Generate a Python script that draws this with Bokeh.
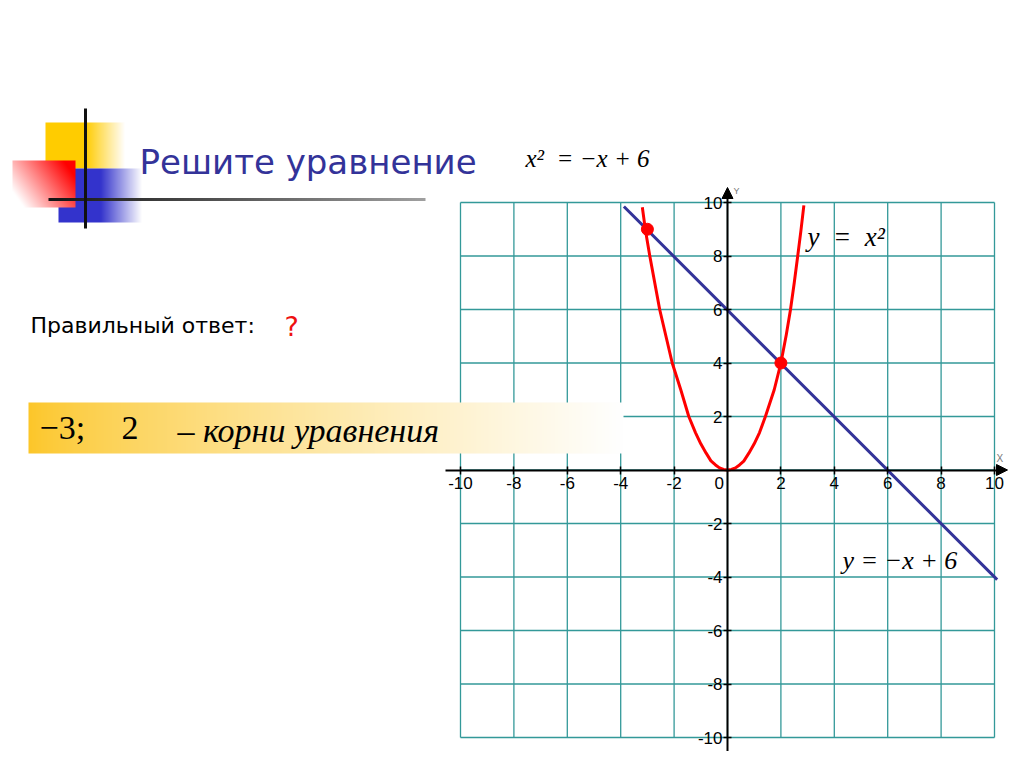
import numpy as np
from bokeh.plotting import figure
from bokeh.models import Label, LinearAxis, FixedTicker, Arrow, NormalHead, Range1d
from bokeh.embed import file_html
from bokeh.resources import INLINE

# ---------------- data ----------------
x_ticks = [-10, -8, -6, -4, -2, 2, 4, 6, 8, 10]
y_ticks = [-10, -8, -6, -4, -2, 2, 4, 6, 8, 10]
tick_labels = {-10: "-10", -8: "-8", -6: "-6", -4: "-4", -2: "-2",
               2: "2", 4: "4", 6: "6", 8: "8", 10: "10"}
grid_vals = [-10, -8, -6, -4, -2, 0, 2, 4, 6, 8, 10]

# y = x^2 curve
parab_x = [-3.19, -3.07, -2.91, -2.54, -2.07, -1.75, -1.45, -1.2, -1.0, -0.8, -0.62, -0.45,
           -0.3, -0.15, 0.0, 0.15, 0.3, 0.45, 0.61, 0.8, 1.0, 1.2, 1.42, 1.75, 2.0, 2.2,
           2.36, 2.5, 2.63, 2.75, 2.86]
parab_y = [9.82, 8.94, 8.0, 6.0, 4.0, 3.0, 2.0, 1.4, 0.98, 0.63, 0.34, 0.19,
           0.08, 0.02, 0.0, 0.02, 0.08, 0.19, 0.33, 0.63, 0.98, 1.4, 2.0, 3.0, 4.0, 5.05,
           6.0, 7.0, 8.0, 8.95, 9.89]
# y = -x + 6
line_x = [-3.88, 10.1]
line_y = [9.85, -4.1]
# intersection points (roots)
roots_x = [-3, 2]
roots_y = [9, 4]

# ---------------- geometry ----------------
W, H = 1008, 751
X0, Y0, SX, SY = 727.0, 469.5, 26.7, 26.75


def dx(px):
    return (px - X0) / SX


def dy(py):
    return (Y0 - py) / SY


p = figure(width=W, height=H, x_range=Range1d(dx(0), dx(W)), y_range=Range1d(dy(H), dy(0)),
           output_backend="svg", toolbar_location=None, min_border=0,
           x_axis_type=None, y_axis_type=None, outline_line_color=None)
p.background_fill_color = "white"
p.border_fill_color = "white"


def rgba_img(w, h, fn):
    """fn(u, v) -> (r, g, b, a); u left->right 0..1, v top->bottom 0..1"""
    u = np.linspace(0, 1, w)[None, :].repeat(h, 0)
    v = np.linspace(0, 1, h)[:, None].repeat(w, 1)
    r, g, b, a = fn(u, v)
    img = np.empty((h, w), dtype=np.uint32)
    view = img.view(dtype=np.uint8).reshape((h, w, 4))
    view[:, :, 0] = np.clip(r, 0, 255)
    view[:, :, 1] = np.clip(g, 0, 255)
    view[:, :, 2] = np.clip(b, 0, 255)
    view[:, :, 3] = np.clip(a, 0, 255)
    return img[::-1]


def place_img(img, px0, py0, px1, py1):
    p.image_rgba(image=[img], x=dx(px0), y=dy(py1), dw=dx(px1) - dx(px0), dh=dy(py0) - dy(py1))


def fade_h(col, solid_frac):
    def fn(u, v):
        t = np.clip((u - solid_frac) / (1 - solid_frac), 0, 1)
        r = col[0] + (255 - col[0]) * t
        g = col[1] + (255 - col[1]) * t
        b = col[2] + (255 - col[2]) * t
        return r, g, b, np.full_like(u, 255)
    return fn


# ---------------- title decoration ----------------
place_img(rgba_img(80, 46, fade_h((255, 204, 0), 0.5)), 45, 122, 125, 168)
place_img(rgba_img(84, 54, fade_h((51, 51, 204), 0.5)), 58, 168, 142, 222)


def red_fn(u, v):
    s = np.clip(0.3 + 0.85 * u - 0.45 * v, 0, 1)
    r = np.full_like(u, 255)
    g = 255 * (1 - s)
    b = 255 * (1 - s)
    return r, g, b, np.full_like(u, 255)


place_img(rgba_img(63, 47, red_fn), 12, 160, 75, 207)


def hline_fn(u, v):
    c = 20 + 140 * u
    return c, c, c, np.full_like(u, 255)


place_img(rgba_img(377, 3, hline_fn), 48, 197.5, 425, 200.5)
p.segment(x0=[dx(85)], y0=[dy(108)], x1=[dx(85)], y1=[dy(228)], line_color="#111111", line_width=3)

p.add_layout(Label(x=dx(139), y=dy(161), text="Решите уравнение", text_font="DejaVu Sans",
                   text_font_size="34px", text_color="#333399", text_baseline="middle"))
p.add_layout(Label(x=dx(525), y=dy(158), text="x²\u2002= −x + 6", text_font="Liberation Serif",
                   text_font_style="italic", text_font_size="25px", text_color="black",
                   text_baseline="middle"))

p.add_layout(Label(x=dx(30), y=dy(325), text="Правильный ответ:", text_font="DejaVu Sans",
                   text_font_size="22px", text_color="black", text_baseline="middle"))
p.add_layout(Label(x=dx(284), y=dy(326), text="?", text_font="DejaVu Sans",
                   text_font_size="27px", text_color="#EE1111", text_baseline="middle"))

# ---------------- grid ----------------
p.segment(x0=grid_vals, y0=[-10] * len(grid_vals), x1=grid_vals, y1=[10] * len(grid_vals),
          line_color="#339999", line_width=1.3)
p.segment(x0=[-10] * len(grid_vals), y0=grid_vals, x1=[10] * len(grid_vals), y1=grid_vals,
          line_color="#339999", line_width=1.3)


# ---------------- answer box ----------------
def gold_fn(u, v):
    t = np.clip(u, 0, 1) ** 0.75
    r = 252 + 3 * t
    g = 198 + 57 * t
    b = 40 + 215 * t
    return r, g, b, np.full_like(u, 255)


place_img(rgba_img(595, 51, gold_fn), 28, 402, 623, 453)
p.add_layout(Label(x=dx(39), y=dy(427), text="−3;", text_font="Liberation Serif",
                   text_font_size="34px", text_color="black", text_baseline="middle"))
p.add_layout(Label(x=dx(121), y=dy(427), text="2", text_font="Liberation Serif",
                   text_font_size="34px", text_color="black", text_baseline="middle"))
p.add_layout(Label(x=dx(177), y=dy(430), text="– корни уравнения", text_font="Liberation Serif",
                   text_font_style="italic", text_font_size="34px", text_color="black",
                   text_baseline="middle"))

# ---------------- axes ----------------
axis_kw = dict(axis_line_color="black", axis_line_width=2, major_tick_line_color="black",
               major_tick_line_width=1.5, major_tick_in=4, major_tick_out=4,
               minor_tick_line_color=None, major_label_text_font="Liberation Sans",
               major_label_text_font_size="17px", major_label_text_color="black",
               major_label_overrides=tick_labels)
xaxis = LinearAxis(fixed_location=0, ticker=FixedTicker(ticks=x_ticks), bounds=(dx(445), 10.3),
                   major_label_standoff=3, **axis_kw)
yaxis = LinearAxis(fixed_location=0, ticker=FixedTicker(ticks=y_ticks), bounds=(dy(751), 10.3),
                   major_label_standoff=1, **axis_kw)
p.add_layout(xaxis, "below")
p.add_layout(yaxis, "left")
p.add_layout(Arrow(end=NormalHead(size=11, fill_color="black", line_color="black"),
                   x_start=10.2, y_start=0, x_end=dx(1007), y_end=0, line_color="black", line_width=2))
p.add_layout(Arrow(end=NormalHead(size=11, fill_color="black", line_color="black"),
                   x_start=0, y_start=10.2, x_end=0, y_end=dy(187), line_color="black", line_width=2))
p.add_layout(Label(x=dx(714), y=dy(482), text="0", text_font="Liberation Sans",
                   text_font_size="17px", text_color="black", text_baseline="middle"))
p.add_layout(Label(x=dx(733), y=dy(190), text="Y", text_font="Liberation Sans",
                   text_font_size="9px", text_color="#777777", text_baseline="middle"))
p.add_layout(Label(x=dx(996), y=dy(458), text="X", text_font="Liberation Sans",
                   text_font_size="10px", text_color="#777777", text_baseline="middle"))

# ---------------- curves ----------------
p.line(line_x, line_y, line_color="#333399", line_width=3)
p.line(parab_x, parab_y, line_color="#FF0000", line_width=3, line_join="round")
p.scatter(roots_x, roots_y, size=12, fill_color="#FF0000", line_color="#FF0000")

p.add_layout(Label(x=dx(807), y=dy(236), text="y\u2002=\u2002x²", text_font="Liberation Serif",
                   text_font_style="italic", text_font_size="27px", text_color="black",
                   text_baseline="middle"))
p.add_layout(Label(x=dx(842), y=dy(560), text="y = −x + 6", text_font="Liberation Serif",
                   text_font_style="italic", text_font_size="26px", text_color="black",
                   text_baseline="middle"))

open("out.html", "w").write(file_html(p, INLINE))
